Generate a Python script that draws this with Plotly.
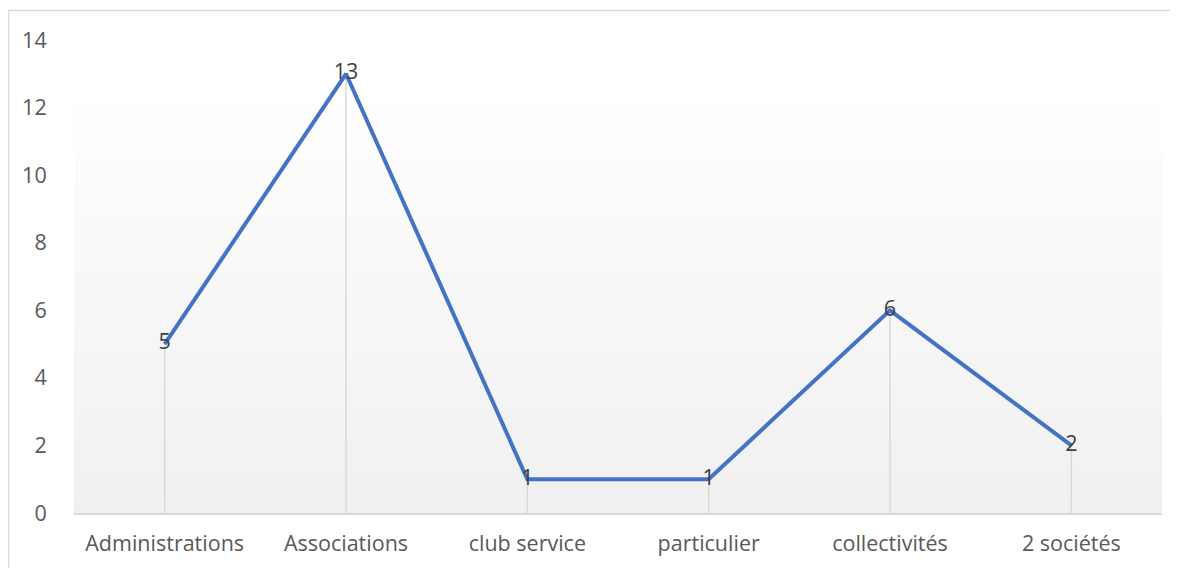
import base64, struct, zlib
import plotly.graph_objects as go

categories = ["Administrations", "Associations", "club service", "particulier", "collectivités", "2 sociétés"]
values = [5, 13, 1, 1, 6, 2]
y_ticks = [0, 2, 4, 6, 8, 10, 12, 14]

FONT = "Open Sans"
SIZE = 21.5
TXT = "#595959"


def gradient_png(h=256, top=(255, 255, 255), bottom=(240, 240, 240), start=0.1):
    raw = b""
    for i in range(h):
        t = i / (h - 1)
        t = 0 if t < start else (t - start) / (1 - start)
        c = [round(top[k] + (bottom[k] - top[k]) * t) for k in range(3)]
        raw += b"\x00" + bytes(c) * 2

    def chunk(tag, data):
        return struct.pack(">I", len(data)) + tag + data + struct.pack(">I", zlib.crc32(tag + data) & 0xffffffff)

    png = b"\x89PNG\r\n\x1a\n"
    png += chunk(b"IHDR", struct.pack(">IIBBBBB", 2, h, 8, 2, 0, 0, 0))
    png += chunk(b"IDAT", zlib.compress(raw))
    png += chunk(b"IEND", b"")
    return "data:image/png;base64," + base64.b64encode(png).decode()


# drop lines from axis to each point
dx, dy = [], []
for c, v in zip(categories, values):
    dx += [c, c, None]
    dy += [0, v, None]

fig = go.Figure()
fig.add_trace(go.Scatter(x=dx, y=dy, mode="lines", line=dict(color="#d9d9d9", width=1.5),
                         hoverinfo="skip", showlegend=False))
fig.add_trace(go.Scatter(x=categories, y=values, mode="lines+text", text=[str(v) for v in values],
                         textposition="middle center",
                         textfont=dict(family=FONT, size=SIZE, color="#404040"),
                         line=dict(color="#4472C4", width=4), showlegend=False))

fig.update_layout(
    width=1170, height=560,
    margin=dict(l=66, r=16, t=32, b=55),
    paper_bgcolor="white", plot_bgcolor="white",
    font=dict(family=FONT, size=SIZE, color=TXT),
    xaxis=dict(type="category", categoryorder="array", categoryarray=categories,
               range=[-0.5, len(categories) - 0.5], showgrid=False, zeroline=False,
               showline=True, linecolor="#d9d9d9", linewidth=1.5,
               ticks="outside", ticklen=10, tickcolor="rgba(0,0,0,0)",
               tickfont=dict(family=FONT, size=SIZE, color=TXT)),
    yaxis=dict(range=[0, 14], tickvals=y_ticks, showgrid=False, zeroline=False, showline=False,
               ticks="outside", ticklen=22, tickcolor="rgba(0,0,0,0)",
               tickfont=dict(family=FONT, size=SIZE, color=TXT)),
    images=[dict(source=gradient_png(), xref="paper", yref="paper", x=0, y=1, sizex=1, sizey=1,
                 sizing="stretch", xanchor="left", yanchor="top", layer="below")],
    shapes=[dict(type="rect", xref="paper", yref="paper", x0=-0.0602, x1=1.2, y0=-0.3, y1=1.0624,
                 line=dict(color="#d9d9d9", width=1.5), fillcolor="rgba(0,0,0,0)", layer="below")],
)

fig.write_html("out.html")
